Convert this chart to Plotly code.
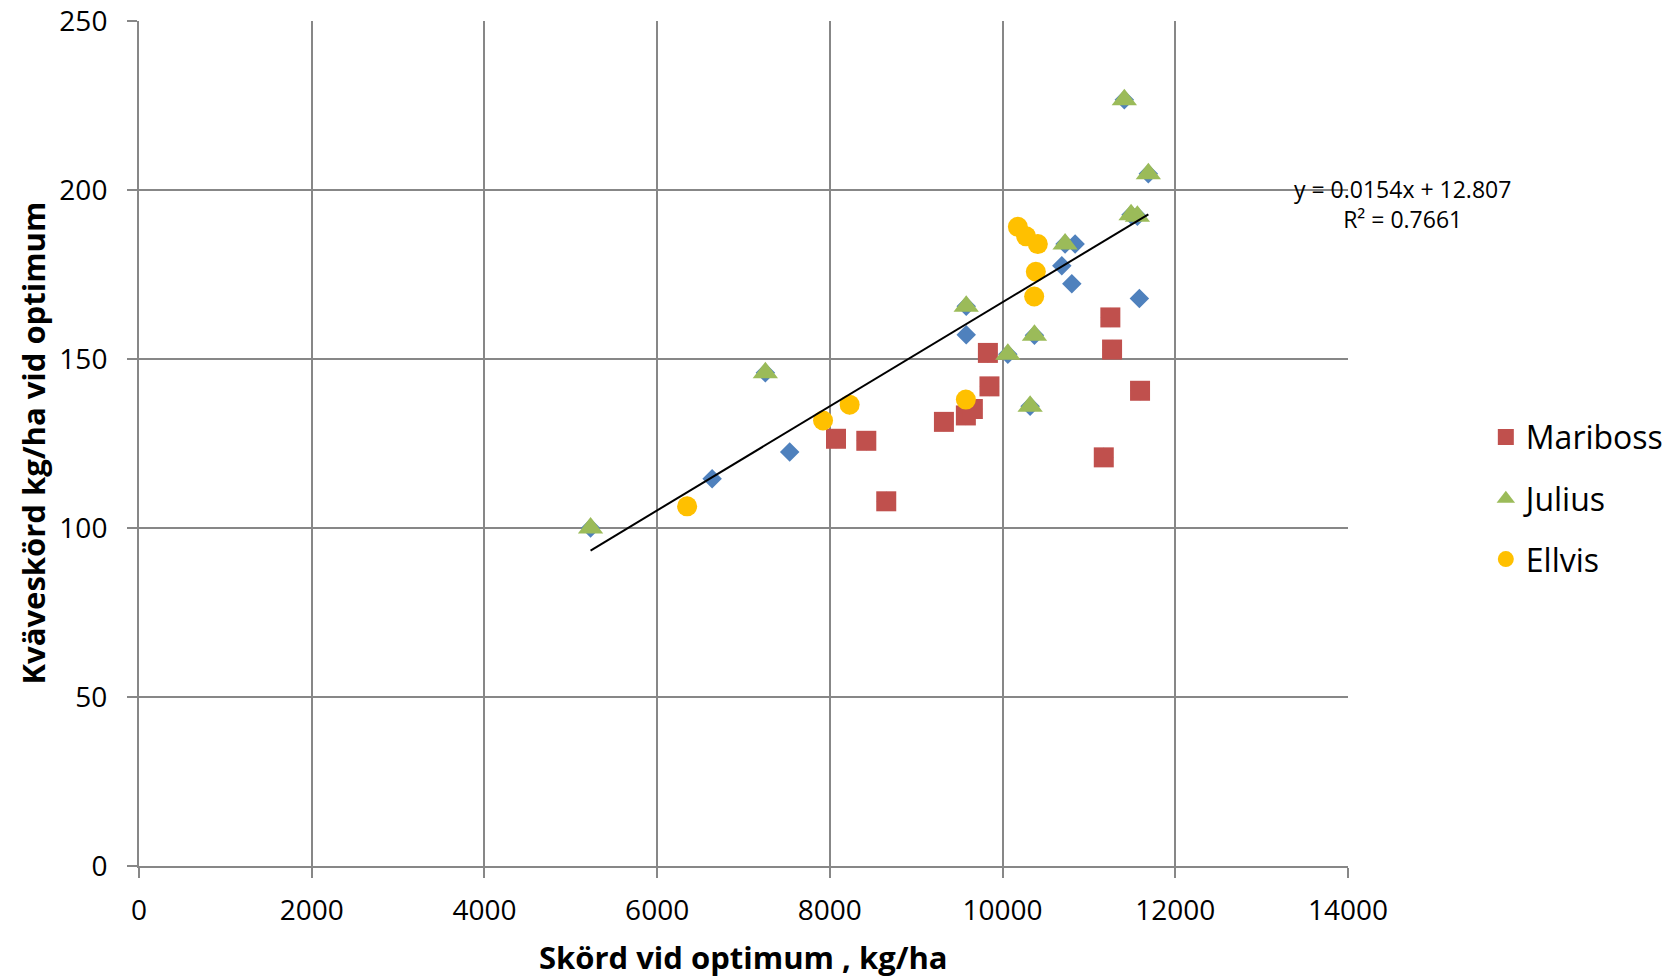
import plotly.graph_objects as go

# ---- data ----
mariboss_x = [8071, 8422, 8653, 9321, 9575, 9656, 9830, 9848, 11172, 11248, 11268, 11592]
mariboss_y = [126.4, 125.8, 107.9, 131.4, 133.3, 135.2, 151.8, 141.9, 120.9, 162.3, 152.8, 140.6]

julius_x = [5229, 7253, 9579, 10061, 10319, 10369, 10724, 11410, 11488, 11561, 11688]
julius_y = [100.0, 145.9, 165.6, 151.4, 136.0, 157.0, 184.0, 226.7, 192.7, 192.2, 204.8]

ellvis_x = [6347, 7921, 8229, 9575, 10177, 10273, 10408, 10385, 10366]
ellvis_y = [106.4, 131.8, 136.5, 138.0, 189.1, 186.3, 184.0, 175.8, 168.5]

other_x = [6637, 7535, 9579, 10686, 10802, 10840, 11584]
other_y = [114.6, 122.5, 157.2, 177.6, 172.3, 184.0, 167.9]

trend_slope = 0.0154
trend_intercept = 12.807
trend_r2 = 0.7661

x_ticks = [0, 2000, 4000, 6000, 8000, 10000, 12000, 14000]
y_ticks = [0, 50, 100, 150, 200, 250]

# all observations (blue series underneath)
all_x = other_x + mariboss_x + julius_x + ellvis_x
all_y = other_y + mariboss_y + julius_y + ellvis_y

FONT = "Open Sans"
GRID = "#878787"

fig = go.Figure()

fig.add_trace(go.Scatter(
    x=all_x, y=all_y, mode="markers", name="Alla",
    marker=dict(symbol="diamond", size=15, color="#4F81BD", line=dict(width=0)),
    showlegend=False))

fig.add_trace(go.Scatter(
    x=mariboss_x, y=mariboss_y, mode="markers", name="Mariboss",
    marker=dict(symbol="square", size=20, color="#C0504D", line=dict(width=0)),
    legend="legend"))

fig.add_trace(go.Scatter(
    x=julius_x, y=julius_y, mode="markers", name="Julius",
    marker=dict(symbol="triangle-up", size=22, color="#9BBB59", line=dict(width=0)),
    legend="legend2"))

fig.add_trace(go.Scatter(
    x=ellvis_x, y=ellvis_y, mode="markers", name="Ellvis",
    marker=dict(symbol="circle", size=20, color="#FFC000", line=dict(width=0)),
    legend="legend3"))

x0, x1 = min(all_x), max(all_x)
fig.add_trace(go.Scatter(
    x=[x0, x1], y=[trend_slope * x0 + trend_intercept, trend_slope * x1 + trend_intercept],
    mode="lines", line=dict(color="black", width=2), showlegend=False, hoverinfo="skip"))

leg_common = dict(font=dict(family=FONT, size=32, color="black"), bgcolor="rgba(0,0,0,0)",
                  xanchor="left", yanchor="middle", itemwidth=30)

fig.update_layout(
    width=1679, height=979,
    margin=dict(l=139, r=331, t=21, b=113, autoexpand=False),
    paper_bgcolor="white", plot_bgcolor="white",
    font=dict(family=FONT, color="black"),
    legend=dict(x=1.114, y=0.5075, **leg_common),
    legend2=dict(x=1.114, y=0.4345, **leg_common),
    legend3=dict(x=1.114, y=0.363, **leg_common),
    xaxis=dict(range=[0, 14000], tickvals=x_ticks, ticktext=[str(v) for v in x_ticks],
               showgrid=True, gridcolor=GRID, gridwidth=2,
               showline=True, linecolor=GRID, linewidth=2,
               ticks="outside", ticklen=10, tickwidth=2, tickcolor=GRID,
               tickfont=dict(family=FONT, size=28, color="black"),
               ticklabelstandoff=8, zeroline=False, fixedrange=True, automargin=False),
    yaxis=dict(range=[0, 250], tickvals=y_ticks, ticktext=[str(v) for v in y_ticks],
               showgrid=True, gridcolor=GRID, gridwidth=2,
               showline=True, linecolor=GRID, linewidth=2,
               ticks="outside", ticklen=10, tickwidth=2, tickcolor=GRID,
               tickfont=dict(family=FONT, size=28, color="black"),
               ticklabelstandoff=14, zeroline=False, fixedrange=True, automargin=False),
    annotations=[
        dict(text="Skörd vid optimum , kg/ha", xref="paper", yref="paper", x=0.5, y=-0.1077,
             xanchor="center", yanchor="middle", showarrow=False,
             font=dict(family=FONT, size=31, color="black", weight="bold")),
        dict(text="Kväveskörd kg/ha vid optimum", xref="paper", yref="paper", x=-0.0885, y=0.5,
             xanchor="center", yanchor="middle", textangle=-90, showarrow=False,
             font=dict(family=FONT, size=31, color="black", weight="bold")),
        dict(text=f"y = {trend_slope}x + {trend_intercept}<br>R² = {trend_r2}",
             xref="paper", yref="paper", x=1.0451, y=0.7835, xanchor="center", yanchor="middle",
             align="center", showarrow=False,
             font=dict(family=FONT, size=23, color="black")),
    ],
)

fig.write_html("out.html")
